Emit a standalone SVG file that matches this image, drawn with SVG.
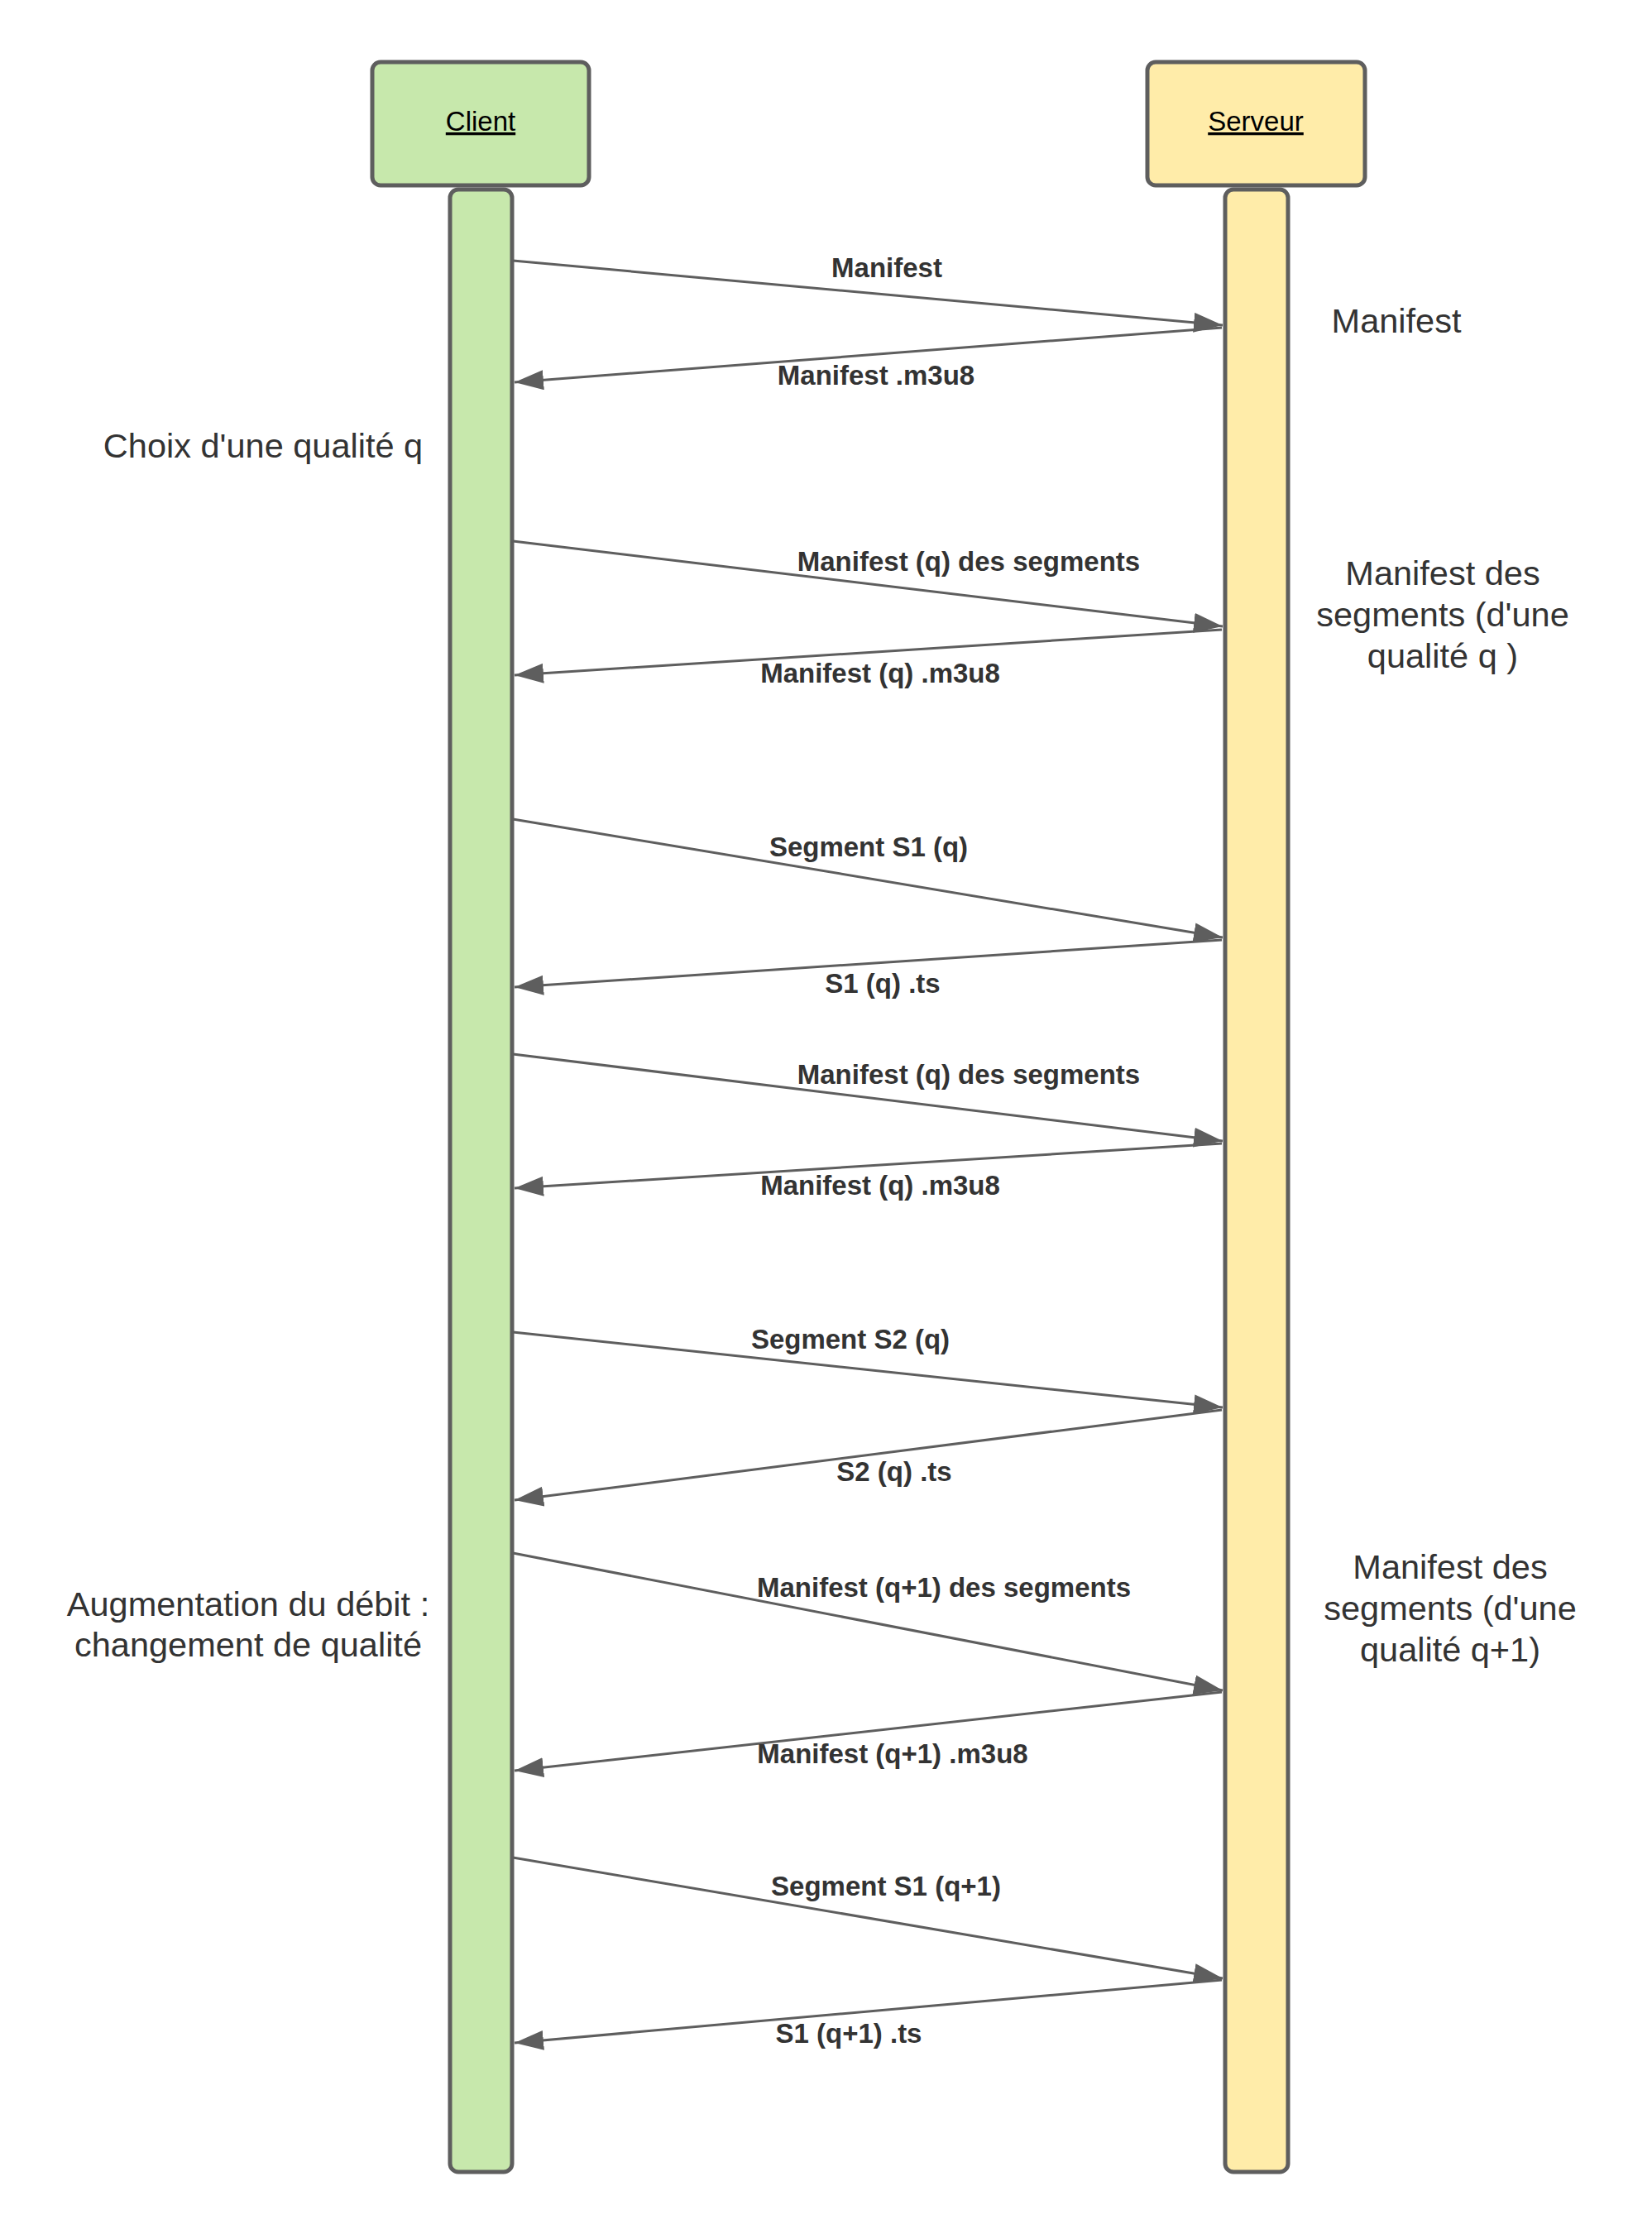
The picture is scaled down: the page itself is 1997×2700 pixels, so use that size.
<svg xmlns="http://www.w3.org/2000/svg" width="1997" height="2700" viewBox="0 0 1997 2700">
<style>
.hdr{stroke:#5e5e5e;stroke-width:5}
.cl{fill:#c7e8ac}
.sv{fill:#ffeca9}
.name{font-family:"Liberation Sans",Arial,sans-serif;font-size:33px;fill:#000;text-anchor:middle;text-decoration:underline}
.msg{stroke:#5e5e5e;stroke-width:3;fill:none;marker-end:url(#ah)}
.lbl{font-family:"Liberation Sans",Arial,sans-serif;font-size:33px;font-weight:bold;fill:#333;text-anchor:middle}
.note{font-family:"Liberation Sans",Arial,sans-serif;font-size:41.5px;fill:#333;text-anchor:middle}
</style>
<defs>
<marker id="ah" markerUnits="userSpaceOnUse" markerWidth="37" markerHeight="26" refX="35" refY="12" orient="auto">
<path d="M0,0 L35,12 L0,24 z" fill="#5e5e5e"/>
</marker>
</defs>
<rect width="1997" height="2700" fill="#fff"/>
<g id="client">
<rect class="hdr cl" x="450" y="75" width="262" height="149" rx="10"/>
<text class="name" x="581" y="158">Client</text>
<rect class="hdr cl" x="544" y="229" width="75" height="2396" rx="10"/>
</g>
<g id="serveur">
<rect class="hdr sv" x="1387" y="75" width="263" height="149" rx="10"/>
<text class="name" x="1518" y="158">Serveur</text>
<rect class="hdr sv" x="1481" y="229" width="76" height="2396" rx="10"/>
</g>
<g id="connectors">
<line class="msg" x1="620" y1="315" x2="1478" y2="393"/>
<line class="msg" x1="1477" y1="396" x2="622" y2="462"/>
<line class="msg" x1="620" y1="654" x2="1478" y2="757"/>
<line class="msg" x1="1477" y1="761" x2="622" y2="816"/>
<line class="msg" x1="620" y1="990" x2="1478" y2="1133"/>
<line class="msg" x1="1477" y1="1136" x2="622" y2="1193"/>
<line class="msg" x1="620" y1="1274" x2="1478" y2="1379"/>
<line class="msg" x1="1477" y1="1382" x2="622" y2="1436"/>
<line class="msg" x1="620" y1="1610" x2="1478" y2="1701"/>
<line class="msg" x1="1477" y1="1704" x2="622" y2="1813"/>
<line class="msg" x1="620" y1="1877" x2="1478" y2="2043"/>
<line class="msg" x1="1477" y1="2045" x2="622" y2="2140"/>
<line class="msg" x1="620" y1="2245" x2="1478" y2="2391"/>
<line class="msg" x1="1477" y1="2393" x2="622" y2="2469"/>
</g>
<g id="labels">
<text class="lbl" x="1072" y="335">Manifest</text>
<text class="lbl" x="1059" y="465">Manifest .m3u8</text>
<text class="lbl" x="1171" y="690">Manifest (q) des segments</text>
<text class="lbl" x="1064" y="825">Manifest (q) .m3u8</text>
<text class="lbl" x="1050" y="1035">Segment S1 (q)</text>
<text class="lbl" x="1067" y="1200">S1 (q) .ts</text>
<text class="lbl" x="1171" y="1310">Manifest (q) des segments</text>
<text class="lbl" x="1064" y="1444">Manifest (q) .m3u8</text>
<text class="lbl" x="1028" y="1630">Segment S2 (q)</text>
<text class="lbl" x="1081" y="1790">S2 (q) .ts</text>
<text class="lbl" x="1141" y="1930">Manifest (q+1) des segments</text>
<text class="lbl" x="1079" y="2131">Manifest (q+1) .m3u8</text>
<text class="lbl" x="1071" y="2291">Segment S1 (q+1)</text>
<text class="lbl" x="1026" y="2469">S1 (q+1) .ts</text>
</g>
<g id="notes">
<text class="note" x="1688" y="402">Manifest</text>
<text class="note" x="1744" y="707">Manifest des</text>
<text class="note" x="1744" y="757">segments (d'une</text>
<text class="note" x="1744" y="807">qualité q )</text>
<text class="note" x="1753" y="1908">Manifest des</text>
<text class="note" x="1753" y="1958">segments (d'une</text>
<text class="note" x="1753" y="2008">qualité q+1)</text>
<text class="note" x="318" y="553">Choix d'une qualité q</text>
<text class="note" x="300" y="1953">Augmentation du débit :</text>
<text class="note" x="300" y="2002">changement de qualité</text>
</g>
</svg>
